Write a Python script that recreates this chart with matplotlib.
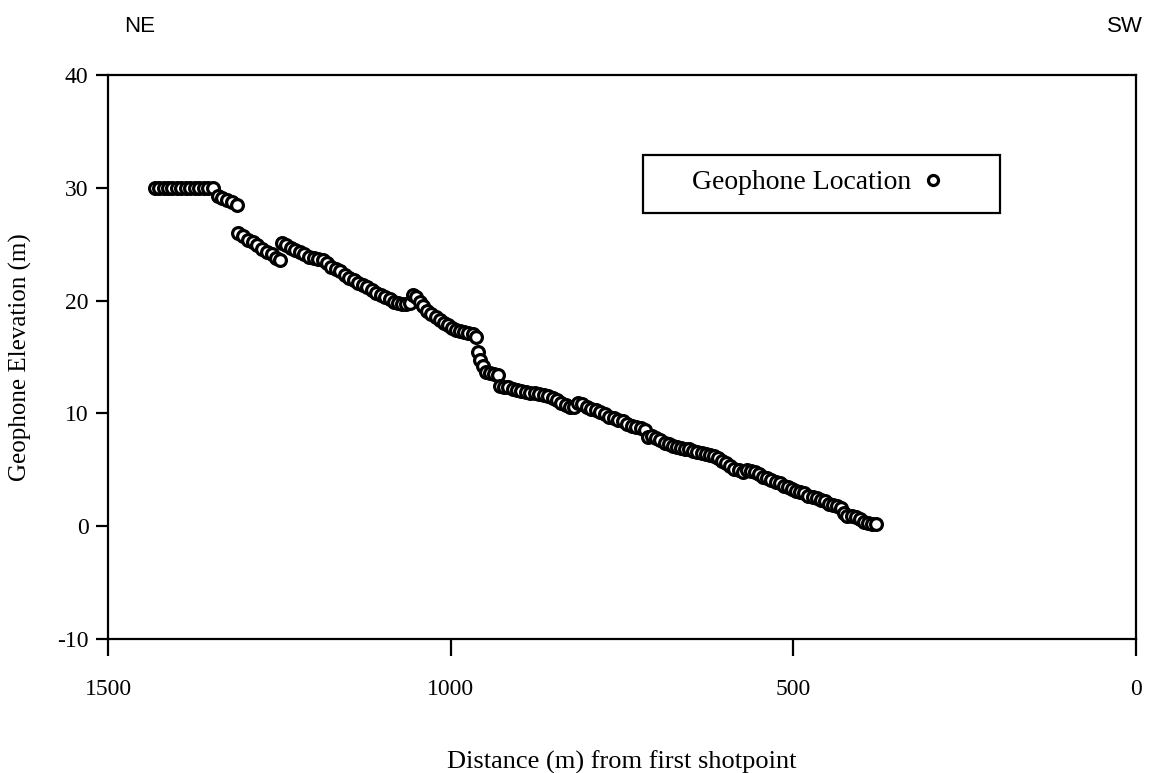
import matplotlib
matplotlib.use('Agg')
import matplotlib.pyplot as plt
from matplotlib.patches import Rectangle

# distance from first shotpoint (m) and geophone elevation (m)
# NE end: flat stretch at 30 m
dist_a = [1432, 1425, 1419, 1412, 1406, 1399, 1393, 1386, 1380, 1373, 1367, 1360, 1354, 1347]
elev_a = [30.0, 30.0, 30.0, 30.0, 30.0, 30.0, 30.0, 30.0, 30.0, 30.0, 30.0, 30.0, 30.0, 30.0]

dist_b = [1340, 1333, 1326, 1319, 1312]
elev_b = [29.3, 29.1, 28.9, 28.7, 28.5]

dist_c = [1310, 1303, 1296, 1289, 1282, 1275, 1268, 1261, 1255, 1249]
elev_c = [26.0, 25.7, 25.4, 25.2, 24.9, 24.6, 24.3, 24.1, 23.8, 23.6]

dist_d = [1246, 1240, 1233, 1227, 1220, 1214, 1207, 1200, 1193, 1186,
          1180, 1174, 1167, 1161, 1154, 1148, 1141, 1135, 1128, 1122,
          1115, 1109, 1102, 1096, 1089, 1083, 1077, 1071, 1065, 1060,
          1055, 1050, 1045, 1040, 1034, 1028, 1022, 1016, 1010, 1004,
          998, 992, 986, 980, 974, 968, 963]
elev_d = [25.1, 24.9, 24.7, 24.5, 24.3, 24.1, 23.9, 23.8, 23.7, 23.6,
          23.3, 23.0, 22.8, 22.6, 22.3, 22.0, 21.8, 21.6, 21.4, 21.2,
          20.9, 20.7, 20.5, 20.3, 20.1, 19.9, 19.8, 19.7, 19.7, 19.8,
          20.5, 20.3, 19.9, 19.5, 19.1, 18.8, 18.5, 18.3, 18.0, 17.8,
          17.6, 17.4, 17.3, 17.2, 17.1, 17.0, 16.8]

dist_e = [960, 957, 953, 948, 943, 937, 931,
          928, 922, 916, 909, 903, 897, 890, 884, 877, 871, 864, 858,
          851, 845, 839, 832, 826, 820, 814, 808, 801, 795, 788, 782,
          775, 769, 762, 756, 749, 743, 736, 730, 723, 717, 712, 706,
          700, 694, 688, 682, 676, 670, 664, 658, 652, 646, 640, 634,
          628, 622, 616, 610, 604, 598, 592, 586, 580, 574, 568, 562,
          556, 550, 544, 538, 532, 526, 520, 514, 508, 502, 496, 490,
          484, 478, 472, 466, 460, 454, 448, 442, 436, 430, 426, 421,
          415, 409, 403, 397, 391, 385, 379]
elev_e = [15.4, 14.7, 14.2, 13.7, 13.6, 13.5, 13.4,
          12.4, 12.3, 12.3, 12.2, 12.1, 12.0, 11.9, 11.8, 11.8, 11.7, 11.6, 11.5,
          11.4, 11.2, 10.9, 10.7, 10.6, 10.6, 10.9, 10.8, 10.6, 10.4, 10.3, 10.1,
          9.9, 9.7, 9.6, 9.4, 9.3, 9.1, 8.9, 8.8, 8.7, 8.5, 7.9, 8.0,
          7.8, 7.6, 7.4, 7.3, 7.1, 7.0, 6.9, 6.8, 6.8, 6.7, 6.6, 6.5,
          6.4, 6.3, 6.2, 6.0, 5.8, 5.6, 5.3, 5.1, 5.0, 4.8, 5.0, 4.9,
          4.8, 4.6, 4.4, 4.3, 4.1, 3.9, 3.8, 3.6, 3.5, 3.3, 3.1, 3.0,
          2.9, 2.7, 2.6, 2.5, 2.3, 2.2, 2.0, 1.9, 1.8, 1.6, 1.2, 0.9,
          0.9, 0.8, 0.6, 0.4, 0.3, 0.2, 0.2]

dist = dist_a + dist_b + dist_c + dist_d + dist_e
elev = elev_a + elev_b + elev_c + elev_d + elev_e

xticks = [1500, 1000, 500, 0]
yticks = [-10, 0, 10, 20, 30, 40]

plt.rcParams['font.family'] = ['Liberation Serif', 'DejaVu Serif']
plt.rcParams['font.size'] = 17

fig = plt.figure(figsize=(11.49, 7.73), dpi=100)
ax = fig.add_axes([0.094, 0.1734, 0.8947, 0.7296])

ax.plot(dist, elev, linestyle='none', marker='o', markersize=8.5,
        markerfacecolor='white', markeredgecolor='black', markeredgewidth=2.3,
        label='Geophone Location')

ax.set_xlim(1500, 0)
ax.set_ylim(-10, 40)
ax.set_xticks(xticks)
ax.set_yticks(yticks)
ax.set_yticklabels(['-10', '0', '10', '20', '30', '40'])

for s in ax.spines.values():
    s.set_linewidth(1.6)
ax.tick_params(axis='x', direction='out', length=12, width=1.6, pad=17)
ax.tick_params(axis='y', direction='out', length=9, width=1.6, pad=5)

ax.set_xlabel('Distance (m) from first shotpoint', fontsize=19, labelpad=36)
ax.set_ylabel('Geophone Elevation (m)', fontsize=18, labelpad=18)

# legend: text first, marker after, inside a plain box
leg = ax.legend(loc='center left', bbox_to_anchor=(0.568, 0.809), frameon=False,
                markerfirst=False, borderpad=0, borderaxespad=0, fontsize=20,
                handlelength=1.0, handletextpad=0.3, markerscale=0.85)
ax.add_patch(Rectangle((0.520, 0.755), 0.348, 0.103, transform=ax.transAxes,
                       fill=False, edgecolor='black', linewidth=1.6, zorder=5))

fig.text(0.108, 0.966, 'NE', family='Liberation Sans', fontsize=16, ha='left', va='center')
fig.text(0.995, 0.966, 'SW', family='Liberation Sans', fontsize=16, ha='right', va='center')

fig.savefig('out.png', dpi=100)
